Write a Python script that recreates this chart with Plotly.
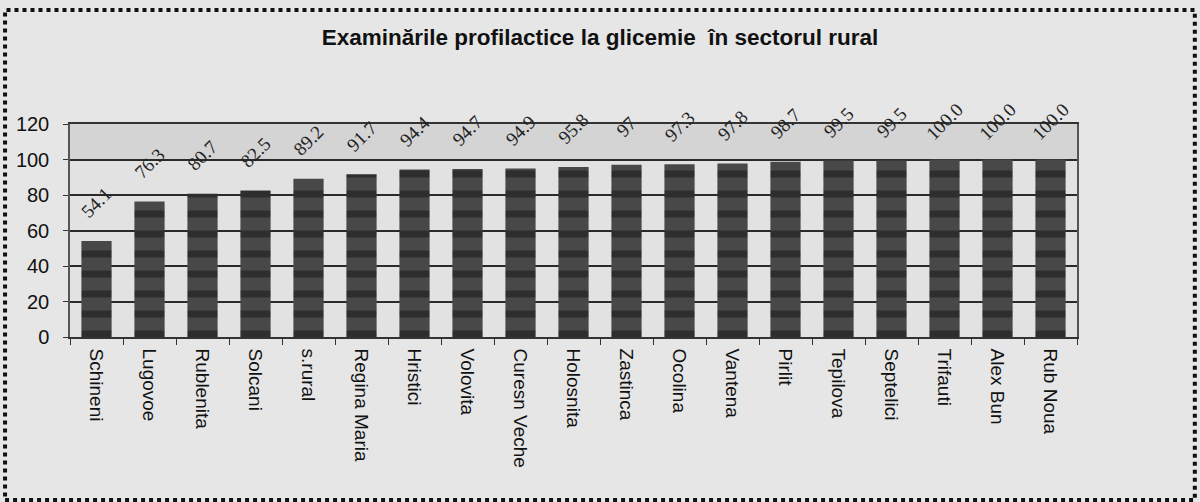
import plotly.graph_objects as go

categories = ["Schineni", "Lugovoe", "Rublenita", "Solcani", "s.rural", "Regina Maria",
              "Hristici", "Volovita", "Curesn Veche", "Holosnita", "Zastinca", "Ocolina",
              "Vantena", "Pirlit", "Tepilova", "Septelici", "Trifauti", "Alex Bun", "Rub Noua"]
values = [54.1, 76.3, 80.7, 82.5, 89.2, 91.7, 94.4, 94.7, 94.9, 95.8, 97, 97.3,
          97.8, 98.7, 99.5, 99.5, 100.0, 100.0, 100.0]
value_labels = ["54.1", "76.3", "80.7", "82.5", "89.2", "91.7", "94.4", "94.7", "94.9",
                "95.8", "97", "97.3", "97.8", "98.7", "99.5", "99.5", "100.0", "100.0", "100.0"]
y_ticks = [0, 20, 40, 60, 80, 100, 120]

fig = go.Figure()
fig.add_trace(go.Bar(
    x=categories, y=values,
    marker=dict(color="#404040", line=dict(width=0),
                pattern=dict(shape="-", fgcolor="#141414", bgcolor="#484848",
                             size=20, solidity=0.35)),
    width=0.57,
))

annotations = []
for c, v, t in zip(categories, values, value_labels):
    annotations.append(dict(x=c, y=v, text=t, showarrow=False, textangle=-45,
                            xanchor="center", yanchor="middle", yshift=38,
                            font=dict(family="Liberation Serif", size=19, color="#222222")))

fig.update_layout(
    width=1200, height=502,
    paper_bgcolor="#e6e6e6", plot_bgcolor="#e2e2e2",
    margin=dict(l=70, r=123, t=124, b=165),
    title=dict(text="<b>Examinările profilactice la glicemie  în sectorul rural</b>",
               x=0.5, xanchor="center", y=1 - 37 / 502, yanchor="middle",
               font=dict(family="Liberation Sans", size=22.5, color="#111111")),
    showlegend=False,
    font=dict(family="Liberation Sans", color="#111111"),
    annotations=annotations,
    shapes=[
        dict(type="rect", xref="paper", yref="paper", x0=-0.0645, x1=1.117, y0=-0.765, y1=1.535,
             line=dict(color="#111111", width=4, dash="dot"), layer="below"),
        dict(type="rect", xref="paper", yref="y", x0=0, x1=1, y0=100, y1=120,
             fillcolor="#d4d4d4", line=dict(width=0), layer="below"),
    ],
)
fig.update_xaxes(
    tickangle=90, tickfont=dict(size=19, color="#111111"),
    showline=True, linecolor="#333333", linewidth=1.5, mirror=True,
    ticks="outside", tickson="boundaries", ticklen=6, tickcolor="#333333",
    ticklabelstandoff=6,
    showgrid=False,
)
fig.update_yaxes(
    range=[0, 120], tickvals=y_ticks, tickfont=dict(size=20, color="#111111"),
    showline=True, linecolor="#555555", linewidth=1.5, mirror=True,
    ticks="outside", ticklen=5, tickcolor="#333333", ticklabelstandoff=10,
    showgrid=True, gridcolor="#2a2a2a", gridwidth=1.5, zeroline=False,
    layer="below traces",
)

fig.write_html("out.html", post_script="document.body.style.margin='0';",
               config={"displayModeBar": False})
